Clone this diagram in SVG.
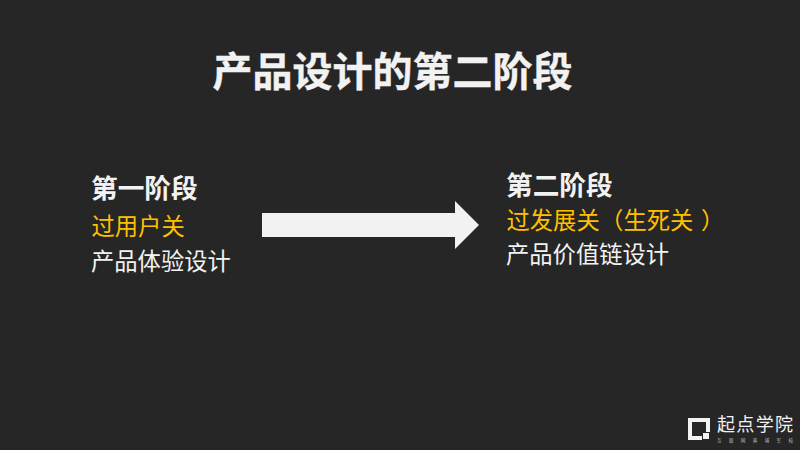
<svg xmlns="http://www.w3.org/2000/svg" width="800" height="450" viewBox="0 0 800 450">
<style>
text{font-family:"Noto Sans CJK SC","Noto Sans",sans-serif}
.h{font-size:26.7px;font-weight:700;fill:#f2f2f2}
.y{font-size:23.3px;fill:#ffc000}
.w{font-size:23.3px;fill:#f2f2f2}
</style>
<rect width="800" height="450" fill="#262626"/>
<text x="212.500" y="86" font-size="40" font-weight="700" fill="#f2f2f2" stroke="#f2f2f2" stroke-width="0.4">产品设计的第二阶段</text>
<g id="stage1">
<text class="h" x="91" y="198">第一阶段</text>
<text class="y" x="91.500" y="235">过用户关</text>
<text class="w" x="91" y="270">产品体验设计</text>
</g>
<g id="connectors">
<polygon points="262,213 455,213 455,201 479,225 455,249 455,237 262,237" fill="#f2f2f2"/>
</g>
<g id="stage2">
<text class="h" x="506" y="195">第二阶段</text>
<text class="y" x="506.500" y="229">过发展关<tspan x="600">（</tspan><tspan x="623.500">生死关</tspan><tspan x="701">）</tspan></text>
<text class="w" x="506" y="263">产品价值链设计</text>
</g>
<g id="logo">
<path d="M688 418H710V432H706V422H692V436H702V440H688Z" fill="#f2f2f2"/>
<rect x="703" y="433" width="6" height="6" fill="#f2f2f2"/>
<text x="717" y="431" font-size="18" font-weight="400" fill="#f2f2f2" textLength="76">起点学院</text>
<text x="717" y="441.500" font-size="4.500" fill="#bfbfbf" textLength="76">互联网黄埔军校</text>
</g>
</svg>
